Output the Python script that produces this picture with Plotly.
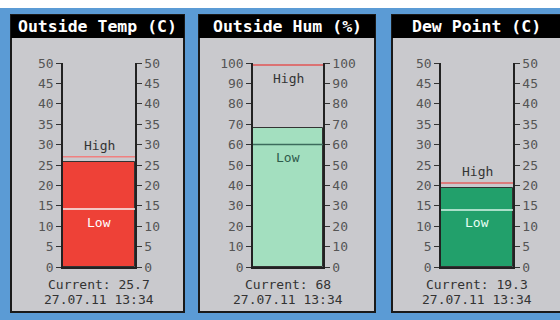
import plotly.graph_objects as go

# ---- data ----
titles = ["Outside Temp (C)", "Outside Hum (%)", "Dew Point (C)"]
current = [25.7, 68, 19.3]
high = [27, 99, 20.6]
low = [14.2, 60, 14.0]
ymax = [50, 100, 50]
dticks = [5, 10, 5]
timestamp = "27.07.11 13:34"

# ---- styles ----
W, H = 560, 320
BLUE = "#5b9bd5"
PANEL = "#c9c9cd"
bar_colors = ["#ee4137", "#a3dfbf", "#22a06b"]
high_colors = ["#f08080", "#e05555", "#e06060"]
low_colors = ["#f4f4f4", "#3c6b5c", "#d8f4e8"]
low_text_colors = ["#ffffff", "#2f5a4b", "#e8fff4"]
MONO = "DejaVu Sans Mono"

panels_px = [(11, 184), (199, 375), (392, 566)]
plot_px = [(63, 135), (253, 323), (441, 513)]
plot_top_px, plot_bot_px = 63, 267

def px(x):
    return x / W

def py(y):
    return 1 - y / H

fig = go.Figure()
shapes = []
annotations = []

shapes.append(dict(type="rect", xref="paper", yref="paper", x0=0, x1=1,
                   y0=py(8), y1=1, fillcolor="white", line_width=0, layer="below"))

layout_axes = {}
for i in range(3):
    n = i + 1
    xa = "x" if n == 1 else f"x{n}"
    ya = "y" if n == 1 else f"y{n}"
    yr = f"y{n+3}"
    (p0, p1) = panels_px[i]
    (a0, a1) = plot_px[i]
    shapes.append(dict(type="rect", xref="paper", yref="paper", x0=px(p0), x1=px(p1),
                       y0=py(312), y1=py(15), fillcolor=PANEL,
                       line=dict(color="#1a1a1a", width=2), layer="below"))
    shapes.append(dict(type="rect", xref="paper", yref="paper", x0=px(p0), x1=px(p1),
                       y0=py(38), y1=py(15), fillcolor="black", line_width=0, layer="below"))
    annotations.append(dict(xref="paper", yref="paper", x=px((p0 + p1) / 2) if i < 2 else px(476),
                            y=py(27), text=titles[i], showarrow=False,
                            font=dict(family=MONO, size=16.5, color="white", weight="bold"),
                            xanchor="center", yanchor="middle"))

    fig.add_trace(go.Bar(x=[0], y=[current[i]], width=1, xaxis=xa, yaxis=ya,
                         marker=dict(color=bar_colors[i], line=dict(color="#333", width=1)),
                         showlegend=False, hoverinfo="skip"))
    fig.add_trace(go.Scatter(x=[0], y=[0], xaxis=xa, yaxis=yr, mode="markers",
                             marker=dict(opacity=0), showlegend=False, hoverinfo="skip"))

    xkey = "xaxis" if n == 1 else f"xaxis{n}"
    ykey = "yaxis" if n == 1 else f"yaxis{n}"
    layout_axes[xkey] = dict(domain=[px(a0), px(a1)], range=[-0.5, 0.5], anchor=ya,
                             showline=True, linecolor="#222", linewidth=1.5,
                             showticklabels=False, showgrid=False, zeroline=False,
                             ticks="", fixedrange=True)
    tick_common = dict(range=[0, ymax[i]], dtick=dticks[i], tick0=0, ticks="outside",
                       ticklen=5, tickwidth=1, tickcolor="#333", showline=True,
                       linecolor="#222", linewidth=1.5, showgrid=False, zeroline=False,
                       tickfont=dict(family=MONO, size=13, color="#555"),
                       domain=[py(plot_bot_px), py(plot_top_px)], fixedrange=True,
                       automargin=False)
    layout_axes[ykey] = dict(anchor=xa, side="left", **tick_common)
    layout_axes[f"yaxis{n+3}"] = dict(anchor=xa, side="right", overlaying=ya, **tick_common)

    shapes.append(dict(type="line", xref=xa, yref=ya, x0=-0.5, x1=0.5, y0=high[i], y1=high[i],
                       line=dict(color=high_colors[i], width=1.5)))
    shapes.append(dict(type="line", xref=xa, yref=ya, x0=-0.5, x1=0.5, y0=low[i], y1=low[i],
                       line=dict(color=low_colors[i], width=1.5)))
    hshift = -13 if high[i] > 0.9 * ymax[i] else 11
    annotations.append(dict(xref=f"{xa} domain", yref=ya, x=0.5, y=high[i], yshift=hshift,
                            text="High", showarrow=False, yanchor="middle",
                            font=dict(family=MONO, size=13, color="#333")))
    annotations.append(dict(xref=f"{xa} domain", yref=ya, x=0.5, y=low[i], yshift=-13,
                            text="Low", showarrow=False, yanchor="middle",
                            font=dict(family=MONO, size=13, color=low_text_colors[i])))
    annotations.append(dict(xref=f"{xa} domain", yref="paper", x=0.5, y=py(284),
                            text=f"Current: {current[i]}", showarrow=False,
                            xanchor="center", yanchor="middle",
                            font=dict(family=MONO, size=13, color="#333")))
    annotations.append(dict(xref=f"{xa} domain", yref="paper", x=0.5, y=py(299),
                            text=timestamp, showarrow=False,
                            xanchor="center", yanchor="middle",
                            font=dict(family=MONO, size=13, color="#333")))

fig.update_layout(width=W, height=H,
                  margin=dict(l=0, r=0, t=0, b=0, pad=0, autoexpand=False),
                  paper_bgcolor=BLUE, plot_bgcolor="rgba(0,0,0,0)",
                  shapes=shapes, annotations=annotations, showlegend=False,
                  bargap=0, **layout_axes)

fig.write_html("out.html", config={"displayModeBar": False},
               post_script="document.body.style.margin='0px';")
